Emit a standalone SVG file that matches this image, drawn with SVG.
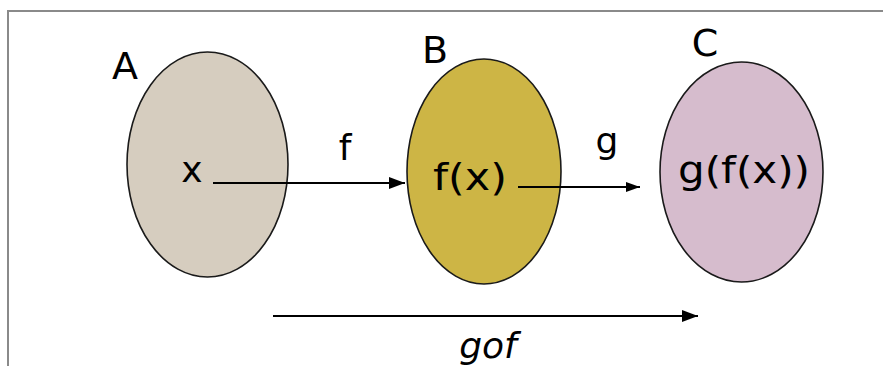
<svg xmlns="http://www.w3.org/2000/svg" width="883" height="374" viewBox="0 0 883 374">
<style>
.lbl{font-family:"DejaVu Sans","Liberation Sans",sans-serif;fill:#000;text-anchor:middle}
.set{stroke:#1a1a1a;stroke-width:1.6}
.conn{stroke:#000;stroke-width:2;fill:none}
.frame{stroke:#8a8a8a;stroke-width:2;fill:none}
</style>
<defs>
<marker id="ah" markerWidth="16" markerHeight="14" refX="16" refY="7" orient="auto" markerUnits="userSpaceOnUse">
<path d="M0,1 L16,7 L0,13 Z" fill="#000"/>
</marker>
<marker id="ahs" markerWidth="14" markerHeight="12" refX="14" refY="6" orient="auto" markerUnits="userSpaceOnUse">
<path d="M0,1 L14,6 L0,11 Z" fill="#000"/>
</marker>
</defs>
<rect width="883" height="374" fill="#fff"/>
<path class="frame" d="M8,366 L8,11 L883,11"/>
<g id="setA">
<ellipse class="set" cx="207.5" cy="164.5" rx="80.5" ry="112.5" fill="#d6cdbf"/>
<text class="lbl" x="125" y="79" font-size="38">A</text>
<text class="lbl" x="192" y="182" font-size="36">x</text>
</g>
<g id="setB">
<ellipse class="set" cx="484" cy="171.5" rx="77" ry="112.5" fill="#cdb545"/>
<text class="lbl" x="435" y="63" font-size="38">B</text>
<text class="lbl" x="470" y="190" font-size="38" textLength="74" lengthAdjust="spacingAndGlyphs">f(x)</text>
</g>
<g id="setC">
<ellipse class="set" cx="741.5" cy="172" rx="81.5" ry="110" fill="#d6bccd"/>
<text class="lbl" x="705" y="56" font-size="38">C</text>
<text class="lbl" x="744" y="183" font-size="38" textLength="132" lengthAdjust="spacingAndGlyphs">g(f(x))</text>
</g>
<g id="connectors">
<line class="conn" x1="213" y1="183" x2="405" y2="183" marker-end="url(#ah)"/>
<line class="conn" x1="518" y1="187" x2="640" y2="187" marker-end="url(#ahs)"/>
<line class="conn" x1="273" y1="316" x2="698" y2="316" marker-end="url(#ah)"/>
<text class="lbl" x="345" y="160" font-size="36">f</text>
<text class="lbl" x="607" y="153" font-size="36">g</text>
<text class="lbl" x="488" y="358" font-size="36" font-style="italic">gof</text>
</g>
</svg>
